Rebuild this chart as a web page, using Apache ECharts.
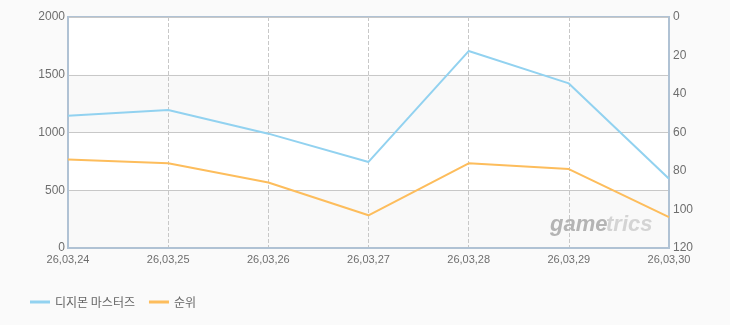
<!DOCTYPE html>
<html><head><meta charset="utf-8">
<script src="https://cdn.jsdelivr.net/npm/echarts@6/dist/echarts.min.js"></script>
<style>html,body{margin:0;padding:0;background:#fafafa;}#c{width:730px;height:325px;}</style>
</head><body><div id="c"></div>
<script>
const categories = ['26,03,24','26,03,25','26,03,26','26,03,27','26,03,28','26,03,29','26,03,30'];
const users = [1145, 1195, 990, 745, 1705, 1425, 600];
const rank = [74, 76, 86, 103, 76, 79, 104];
const seriesNames = ['디지몬 마스터즈', '순위'];
const leftTicks = [0, 500, 1000, 1500, 2000];
const rightTicks = [0, 20, 40, 60, 80, 100, 120];

const chart = echarts.init(document.getElementById('c'));
const labelStyle = {color:'#6e6e6e', fontSize:11, fontFamily:'Liberation Sans, Arial, sans-serif'};
chart.setOption({
  backgroundColor:'#fafafa',
  animation:false,
  grid:{left:68, right:61, top:17, bottom:77, show:true, borderColor:'#b0c2d4', borderWidth:2, backgroundColor:'transparent'},
  legend:{
    left:25, bottom:12, itemWidth:20, itemHeight:3, icon:'rect', itemGap:14,
    textStyle:{color:'#666', fontSize:12, fontFamily:'Noto Sans CJK KR, sans-serif'},
    data:seriesNames
  },
  xAxis:{
    type:'category', data:categories, boundaryGap:false,
    axisLine:{show:true, lineStyle:{color:'#b0c2d4', width:2}},
    axisTick:{show:false},
    axisLabel:{...labelStyle, margin:6, showMinLabel:true, showMaxLabel:true},
    splitLine:{show:true, lineStyle:{color:'#c8c8c8', type:'dashed', width:1}}
  },
  yAxis:[{
    type:'value', min:leftTicks[0], max:leftTicks[leftTicks.length-1], interval:500,
    axisLine:{show:true, lineStyle:{color:'#b0c2d4', width:2}},
    axisTick:{show:false},
    axisLabel:{...labelStyle, fontSize:12, margin:3, formatter:v=>String(v)},
    splitLine:{show:true, lineStyle:{color:'#c8c8c8', width:1}},
    splitArea:{show:true, areaStyle:{color:['#f9f9f9','#ffffff']}}
  },{
    type:'value', inverse:true, min:rightTicks[0], max:rightTicks[rightTicks.length-1], interval:20,
    axisLine:{show:true, lineStyle:{color:'#b0c2d4', width:2}},
    axisTick:{show:false},
    axisLabel:{...labelStyle, fontSize:12, margin:4},
    splitLine:{show:false}
  }],
  graphic:[{
    type:'text', left:550, top:214, z:100,
    style:{text:'game', fill:'#b4b4b4', font:'italic bold 22px "Liberation Sans", Arial, sans-serif'}
  },{
    type:'text', left:606, top:214, z:100,
    style:{text:'trics', fill:'#d4d4d4', font:'italic bold 22px "Liberation Sans", Arial, sans-serif'}
  }],
  series:[{
    name:seriesNames[0], type:'line', data:users, yAxisIndex:0, z:3,
    showSymbol:false, symbol:'none', lineStyle:{color:'#92d2f0', width:2}, itemStyle:{color:'#92d2f0'}
  },{
    name:seriesNames[1], type:'line', data:rank, yAxisIndex:1, z:3,
    showSymbol:false, symbol:'none', lineStyle:{color:'#fdbd5c', width:2}, itemStyle:{color:'#fdbd5c'}
  }]
});
</script></body></html>
